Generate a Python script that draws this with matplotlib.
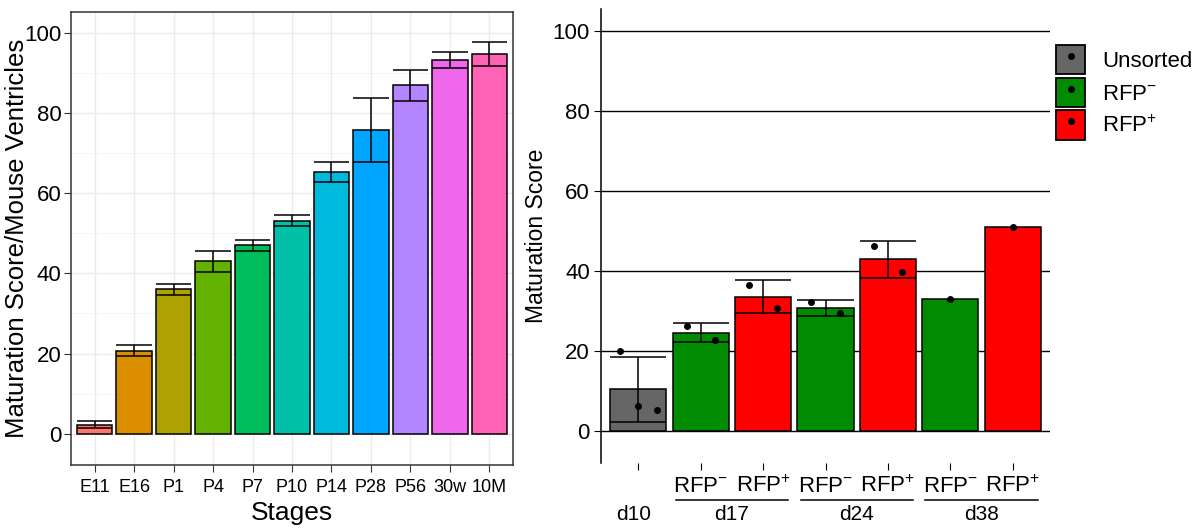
import matplotlib
matplotlib.use("Agg")
import matplotlib.pyplot as plt
import numpy as np
from matplotlib.patches import Patch
from matplotlib.lines import Line2D

plt.rcParams['font.family'] = ['Liberation Sans', 'DejaVu Sans']
plt.rcParams['mathtext.fontset'] = 'custom'
plt.rcParams['mathtext.rm'] = 'Liberation Sans'
plt.rcParams['mathtext.it'] = 'Liberation Sans'

# left panel: mouse ventricles by stage
stages = ['E11', 'E16', 'P1', 'P4', 'P7', 'P10', 'P14', 'P28', 'P56', '30w', '10M']
stage_mean = [2.3, 20.7, 36.0, 43.0, 47.0, 53.1, 65.3, 75.7, 86.9, 93.2, 94.7]
stage_err = [0.8, 1.4, 1.35, 2.6, 1.4, 1.35, 2.55, 8.0, 3.8, 2.05, 2.9]
stage_colors = ['#F8766D', '#DB8E00', '#AEA200', '#64B200', '#00BD5C', '#00C1A7',
                '#00BADE', '#00A6FF', '#B385FF', '#EF67EB', '#FF63B6']

# right panel: differentiation days, sorted populations
days = ['d10', 'd17', 'd17', 'd24', 'd24', 'd38', 'd38']
sort_group = ['Unsorted', 'RFP-', 'RFP+', 'RFP-', 'RFP+', 'RFP-', 'RFP+']
diff_mean = [10.4, 24.6, 33.6, 30.8, 42.9, 32.9, 51.1]
diff_err = [8.15, 2.45, 4.05, 1.95, 4.55, np.nan, np.nan]
diff_points = [[19.9, 6.25, 5.3], [26.25, 22.8], [36.4, 30.75], [32.2, 29.4],
               [46.2, 39.75], [32.9], [51.1]]
group_colors = {'Unsorted': '#666666', 'RFP-': '#008B00', 'RFP+': '#FF0000'}
group_labels = {'Unsorted': 'Unsorted', 'RFP-': r'RFP$^{-}$', 'RFP+': r'RFP$^{+}$'}

W = 0.9

fig = plt.figure(figsize=(12.04, 5.30), dpi=100)

# ---- left panel ----
ax1 = fig.add_axes([71 / 1204, 1 - 465 / 530, 442 / 1204, 453 / 530])
x1 = np.arange(len(stages))
ax1.set_axisbelow(True)
ax1.bar(x1, stage_mean, width=W, color=stage_colors, edgecolor='black', linewidth=1.1, zorder=2)
m1 = np.array(stage_mean)
e1 = np.array(stage_err)
ax1.vlines(x1, m1 - e1, m1 + e1, color='black', linewidth=1.1, zorder=3)
ax1.hlines(m1 + e1, x1 - W / 2, x1 + W / 2, color='black', linewidth=1.1, zorder=3)
ax1.hlines(m1 - e1, x1 - W / 2, x1 + W / 2, color='black', linewidth=1.1, zorder=3)
ax1.set_xlim(-0.6, len(stages) - 0.4)
ax1.set_ylim(-7.8, 105.2)
ax1.set_yticks([0, 20, 40, 60, 80, 100])
ax1.set_yticks([10, 30, 50, 70, 90], minor=True)
ax1.set_xticks(x1)
ax1.set_xticklabels(stages, fontsize=13)
ax1.tick_params(axis='y', labelsize=16, length=5, color='#333333', pad=2)
ax1.tick_params(axis='x', length=5, color='#333333', pad=5)
ax1.tick_params(axis='y', which='minor', length=0)
ax1.grid(True, which='major', color='#EBEBEB', linewidth=1.0)
ax1.grid(True, which='minor', axis='y', color='#F2F2F2', linewidth=0.6)
for s in ax1.spines.values():
    s.set_color('#333333')
    s.set_linewidth(1.1)
ax1.set_xlabel('Stages', fontsize=19, labelpad=4)
ax1.set_ylabel('Maturation Score/Mouse Ventricles', fontsize=18.5)
ax1.yaxis.set_label_coords(-0.095, 0.5)

# ---- right panel ----
ax2 = fig.add_axes([601 / 1204, 1 - 463 / 530, 449 / 1204, 454 / 530])
x2 = np.arange(len(days))
cols = [group_colors[g] for g in sort_group]
ax2.set_axisbelow(True)
ax2.bar(x2, diff_mean, width=W, color=cols, edgecolor='black', linewidth=1.1, zorder=2)
m2 = np.array(diff_mean)
e2 = np.array(diff_err)
ok = ~np.isnan(e2)
ax2.vlines(x2[ok], (m2 - e2)[ok], (m2 + e2)[ok], color='black', linewidth=1.1, zorder=3)
ax2.hlines((m2 + e2)[ok], x2[ok] - W / 2, x2[ok] + W / 2, color='black', linewidth=1.1, zorder=3)
ax2.hlines((m2 - e2)[ok], x2[ok] - W / 2, x2[ok] + W / 2, color='black', linewidth=1.1, zorder=3)
for xi, pts in zip(x2, diff_points):
    n = len(pts)
    offs = -W / 2 + W * (np.arange(n) + 0.5) / n
    ax2.plot(xi + offs, pts, 'o', color='black', markersize=4, zorder=4)
ax2.set_xlim(-0.6, len(days) - 0.4)
ax2.set_ylim(-8, 105.5)
ax2.set_yticks([0, 20, 40, 60, 80, 100])
ax2.yaxis.grid(True, color='black', linewidth=1.0)
ax2.set_xticks(x2)
ax2.set_xticklabels(['' if g == 'Unsorted' else group_labels[g] for g in sort_group], fontsize=16)
ax2.tick_params(axis='y', labelsize=16, length=5, color='black', pad=3)
ax2.tick_params(axis='x', length=5, color='black', pad=4)
for k in ['top', 'right', 'bottom']:
    ax2.spines[k].set_visible(False)
ax2.spines['left'].set_color('black')
ax2.spines['left'].set_linewidth(1.1)
ax2.set_ylabel('Maturation Score', fontsize=16.5)
ax2.yaxis.set_label_coords(-0.118, 0.5)

# day grouping under the tick labels
trans = ax2.get_xaxis_transform()
for d in dict.fromkeys(days):
    idx = [i for i, dd in enumerate(days) if dd == d]
    xc = (idx[0] + idx[-1]) / 2
    if len(idx) > 1:
        ax2.plot([idx[0] - 0.4, idx[-1] + 0.4], [-0.081, -0.081], color='black',
                 linewidth=1.1, transform=trans, clip_on=False)
    ax2.text(xc - (0.07 if len(idx) == 1 else 0), -0.093, d, transform=trans,
             ha='center', va='top', fontsize=15)

# legend
handles = []
labels = []
for g in ['Unsorted', 'RFP-', 'RFP+']:
    handles.append((Patch(facecolor=group_colors[g], edgecolor='black', linewidth=1.3),
                    Line2D([], [], marker='o', color='black', linestyle='none', markersize=4)))
    labels.append(group_labels[g])
fig.legend(handles, labels, loc='upper left', bbox_to_anchor=(1056 / 1204, 1 - 45 / 530),
           frameon=False, fontsize=16, handlelength=1.32, handleheight=1.65,
           labelspacing=0.15, handletextpad=0.75, borderpad=0, borderaxespad=0)

fig.savefig('out.png', dpi=100)
